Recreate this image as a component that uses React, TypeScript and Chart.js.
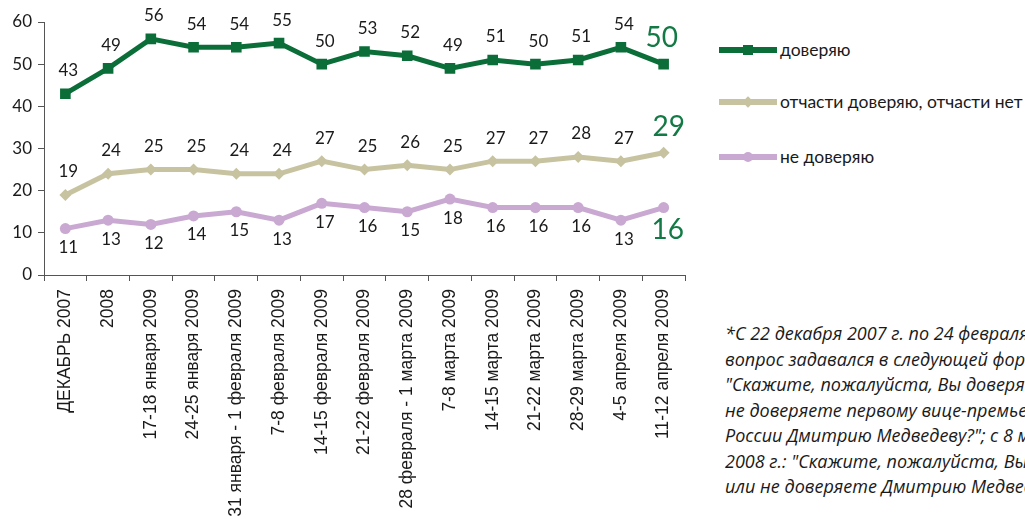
import React, { useEffect, useRef } from "react";
import { Chart, registerables } from "chart.js";

Chart.register(...registerables);

const categories: string[] = [
  "ДЕКАБРЬ 2007",
  "2008",
  "17-18 января 2009",
  "24-25 января 2009",
  "31 января - 1 февраля 2009",
  "7-8 февраля 2009",
  "14-15 февраля 2009",
  "21-22 февраля 2009",
  "28 февраля - 1 марта 2009",
  "7-8 марта 2009",
  "14-15 марта 2009",
  "21-22 марта 2009",
  "28-29 марта 2009",
  "4-5 апреля 2009",
  "11-12 апреля 2009",
];

const trust: number[] = [43, 49, 56, 54, 54, 55, 50, 53, 52, 49, 51, 50, 51, 54, 50];
const partly: number[] = [19, 24, 25, 25, 24, 24, 27, 25, 26, 25, 27, 27, 28, 27, 29];
const distrust: number[] = [11, 13, 12, 14, 15, 13, 17, 16, 15, 18, 16, 16, 16, 13, 16];

const seriesNames: string[] = ["доверяю", "отчасти доверяю, отчасти нет", "не доверяю"];
const yTicks: number[] = [0, 10, 20, 30, 40, 50, 60];

const GREEN = "#0b6e38";
const BEIGE = "#c7c3a0";
const PURPLE = "#c9a9d2";
const LAST_GREEN = "#137a45";
const FONT = "Lato, 'Noto Sans', sans-serif";
const AXIS_FONT = "'Liberation Sans', Arial, sans-serif";
const NOTE_FONT = "'Open Sans', 'Noto Sans', sans-serif";

const footnoteLines: string[] = [
  "*С 22 декабря 2007 г. по 24 февраля 2008 г.",
  "вопрос задавался в следующей формулировке:",
  "\"Скажите, пожалуйста, Вы доверяете или",
  "не доверяете первому вице-премьеру",
  "России Дмитрию Медведеву?\"; с 8 марта",
  "2008 г.: \"Скажите, пожалуйста, Вы доверяете",
  "или не доверяете Дмитрию Медведеву?\"",
];

const lastLabelShift = [-2, 5, 4];

const labelPlugin = {
  id: "valueLabels",
  afterDatasetsDraw(chart: any) {
    const ctx = chart.ctx;
    ctx.save();
    chart.data.datasets.forEach((ds: any, di: number) => {
      const meta = chart.getDatasetMeta(di);
      const below = di === 2;
      meta.data.forEach((pt: any, i: number) => {
        const last = i === ds.data.length - 1;
        const txt = String(ds.data[i]);
        ctx.textAlign = "center";
        ctx.textBaseline = "middle";
        if (last) {
          ctx.font = `28px ${FONT}`;
          ctx.fillStyle = LAST_GREEN;
          const dy = below ? 22 : -26;
          ctx.fillText(txt, pt.x + lastLabelShift[di], pt.y + dy);
        } else {
          ctx.font = `17px ${FONT}`;
          ctx.fillStyle = "#1a1a1a";
          const dy = below ? 19 : -23;
          ctx.fillText(txt, pt.x + 3, pt.y + dy);
        }
      });
    });
    ctx.restore();
  },
};

function LegendItem({ color, shape, label, top }: { color: string; shape: string; label: string; top: number }) {
  let marker: React.CSSProperties;
  if (shape === "square") {
    marker = { position: "absolute", left: 24, top: -2, width: 10, height: 10, background: color };
  } else if (shape === "diamond") {
    marker = { position: "absolute", left: 25, top: -1, width: 8, height: 8, background: color, transform: "rotate(45deg)" };
  } else {
    marker = { position: "absolute", left: 24, top: -2, width: 10, height: 10, borderRadius: "50%", background: color };
  }
  return (
    <div style={{ position: "absolute", left: 719, top: top - 3, width: 300, height: 6 }}>
      <div style={{ position: "absolute", left: 0, top: 0, width: 58, height: 6, background: color }} />
      <div style={marker} />
      <div
        style={{
          position: "absolute",
          left: 61,
          top: -7,
          fontFamily: FONT,
          fontSize: 17.5,
          color: "#1a1a1a",
          whiteSpace: "nowrap",
          lineHeight: "20px",
        }}
      >
        {label}
      </div>
    </div>
  );
}

export default function App() {
  const canvasRef = useRef<HTMLCanvasElement | null>(null);

  useEffect(() => {
    if (!canvasRef.current) return;
    const chart = new Chart(canvasRef.current, {
      type: "line",
      data: {
        labels: categories,
        datasets: [
          {
            label: seriesNames[0],
            data: trust,
            borderColor: GREEN,
            backgroundColor: GREEN,
            borderWidth: 5,
            pointStyle: "rect",
            pointRadius: 7.5,
            pointBorderWidth: 0,
            tension: 0,
          },
          {
            label: seriesNames[1],
            data: partly,
            borderColor: BEIGE,
            backgroundColor: BEIGE,
            borderWidth: 5,
            pointStyle: "rectRot",
            pointRadius: 6,
            pointBorderWidth: 0,
            tension: 0,
          },
          {
            label: seriesNames[2],
            data: distrust,
            borderColor: PURPLE,
            backgroundColor: PURPLE,
            borderWidth: 5,
            pointStyle: "circle",
            pointRadius: 5.5,
            pointBorderWidth: 0,
            tension: 0,
          },
        ],
      },
      options: {
        responsive: false,
        animation: false,
        layout: { padding: { top: 22, right: 15, left: 0, bottom: 0 } },
        plugins: {
          legend: { display: false },
          tooltip: { enabled: false },
        },
        scales: {
          x: {
            offset: true,
            grid: {
              offset: true,
              drawOnChartArea: false,
              drawTicks: true,
              tickLength: 6,
              color: "#555",
            },
            border: { color: "#555", width: 1 },
            ticks: {
              autoSkip: false,
              minRotation: 90,
              maxRotation: 90,
              padding: 8,
              color: "#1a1a1a",
              font: { family: AXIS_FONT, size: 17.5 },
            },
            afterFit(scale: any) {
              scale.height = 244;
            },
          },
          y: {
            min: 0,
            max: 60,
            afterBuildTicks(scale: any) {
              scale.ticks = yTicks.map((v) => ({ value: v }));
            },
            grid: {
              drawOnChartArea: false,
              drawTicks: true,
              tickLength: 6,
              color: "#555",
            },
            border: { color: "#555", width: 1 },
            ticks: {
              padding: 6,
              color: "#1a1a1a",
              font: { family: FONT, size: 17 },
            },
            afterFit(scale: any) {
              scale.width = 44;
            },
          },
        },
      },
      plugins: [labelPlugin],
    });
    return () => chart.destroy();
  }, []);

  return (
    <div
      style={{
        position: "fixed",
        left: 0,
        top: 0,
        width: 1025,
        height: 519,
        overflow: "hidden",
        background: "#fff",
      }}
    >
      <canvas ref={canvasRef} width={700} height={519} style={{ position: "absolute", left: 0, top: 0 }} />
      <LegendItem color={GREEN} shape="square" label={seriesNames[0]} top={50} />
      <LegendItem color={BEIGE} shape="diamond" label={seriesNames[1]} top={102} />
      <LegendItem color={PURPLE} shape="circle" label={seriesNames[2]} top={157} />
      <div
        style={{
          position: "absolute",
          left: 725,
          top: 321,
          fontFamily: NOTE_FONT,
          fontStyle: "italic",
          fontSize: 18,
          lineHeight: "25.5px",
          color: "#1a1a1a",
          whiteSpace: "nowrap",
        }}
      >
        {footnoteLines.map((l, i) => (
          <div key={i}>{l}</div>
        ))}
      </div>
    </div>
  );
}
